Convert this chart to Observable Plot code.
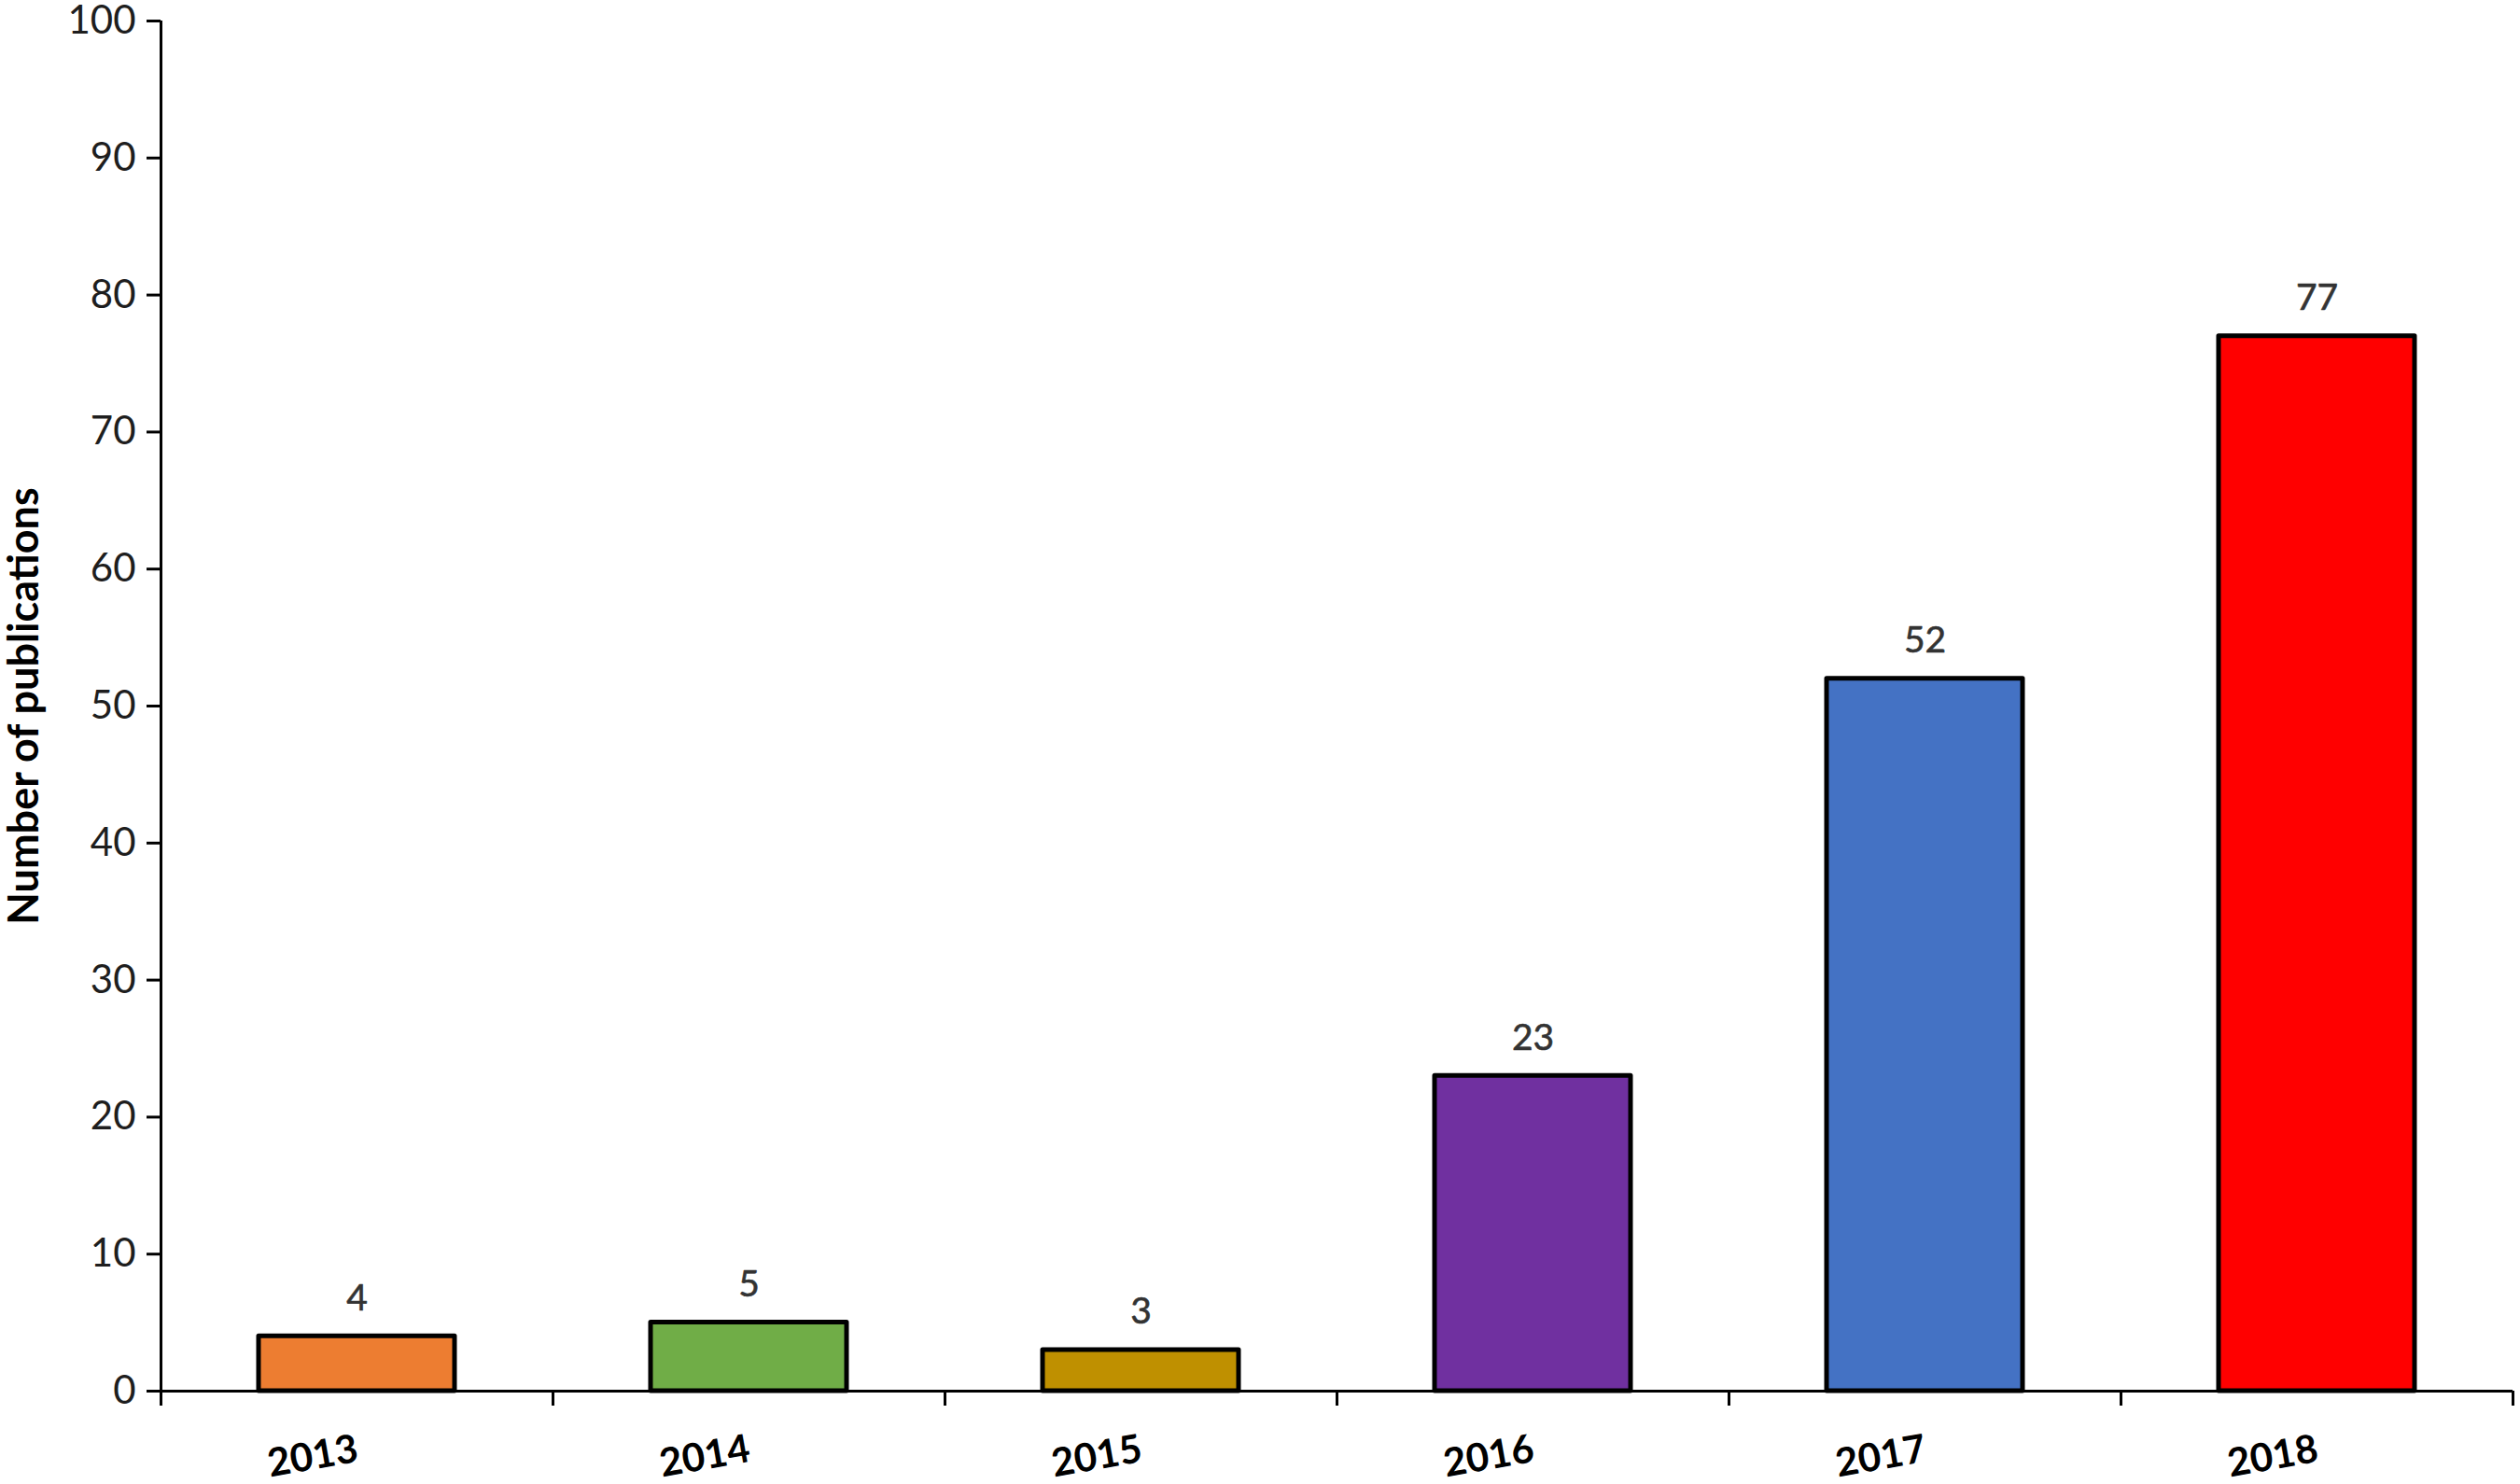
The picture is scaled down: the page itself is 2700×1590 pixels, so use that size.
<!DOCTYPE html>
<html>
<head>
<meta charset="utf-8">
<script src="https://cdn.jsdelivr.net/npm/d3@7"></script>
<script src="https://cdn.jsdelivr.net/npm/@observablehq/plot@0.6"></script>
<style>
  html, body { margin: 0; padding: 0; background: #ffffff; }
  #chart svg { display: block; }
</style>
</head>
<body>
<div id="chart"></div>
<script>
const years = ["2013", "2014", "2015", "2016", "2017", "2018"];
const publications = [4, 5, 3, 23, 52, 77];
const barColors = ["#ED7D31", "#70AD47", "#BF9000", "#7030A0", "#4472C4", "#FF0000"];
const yTicks = [0, 10, 20, 30, 40, 50, 60, 70, 80, 90, 100];
const yLabel = "Number of publications";

const data = years.map((year, i) => ({i, year, value: publications[i], color: barColors[i]}));
const boundaries = d3.range(0, years.length + 1);

const W = 2700, H = 1590;
const mL = 172, mR = 8, mT = 22, mB = 100;
const font = "Lato, 'Open Sans', 'Liberation Sans', sans-serif";

const chart = Plot.plot({
  width: W,
  height: H,
  marginLeft: mL,
  marginRight: mR,
  marginTop: mT,
  marginBottom: mB,
  style: {fontFamily: font, background: "#ffffff", color: "#000000", overflow: "visible"},
  x: {type: "linear", domain: [0, years.length], axis: null},
  y: {domain: [0, 100], axis: null},
  marks: [
    Plot.rectY(data, {
      x1: d => d.i + 0.25,
      x2: d => d.i + 0.75,
      y1: 0,
      y2: "value",
      fill: d => d.color,
      stroke: "#000000",
      strokeWidth: 5,
      strokeLinejoin: "round"
    }),
    Plot.text(data, {
      x: d => d.i + 0.5,
      y: "value",
      text: d => String(d.value),
      lineAnchor: "bottom",
      dy: -28,
      fontSize: 39,
      fill: "#333333",
      stroke: "#333333",
      strokeWidth: 0.6
    }),
    Plot.ruleY([0], {stroke: "#000000", strokeWidth: 3}),
    Plot.ruleX([0], {stroke: "#000000", strokeWidth: 3}),
    Plot.axisY({
      ticks: yTicks,
      tickSize: 15,
      tickPadding: 12,
      fontSize: 42,
      label: null,
      stroke: "#000000",
      strokeWidth: 3,
      color: "#1e1e1e"
    }),
    Plot.axisX({
      ticks: boundaries,
      tickSize: 16,
      tickFormat: () => "",
      label: null,
      stroke: "#000000",
      strokeWidth: 3
    }),
    Plot.text(data, {
      x: d => d.i + 0.5,
      text: "year",
      frameAnchor: "bottom",
      textAnchor: "end",
      dy: 75,
      dx: 3,
      rotate: -10,
      fontSize: 42,
      fontWeight: "bold",
      fill: "#000000"
    }),
    Plot.text([yLabel], {
      text: d => d,
      frameAnchor: "left",
      textAnchor: "middle",
      dx: -146,
      rotate: -90,
      fontSize: 45,
      fontWeight: "bold",
      fill: "#000000",
      letterSpacing: 4
    })
  ]
});

document.getElementById("chart").appendChild(chart);
</script>
</body>
</html>
